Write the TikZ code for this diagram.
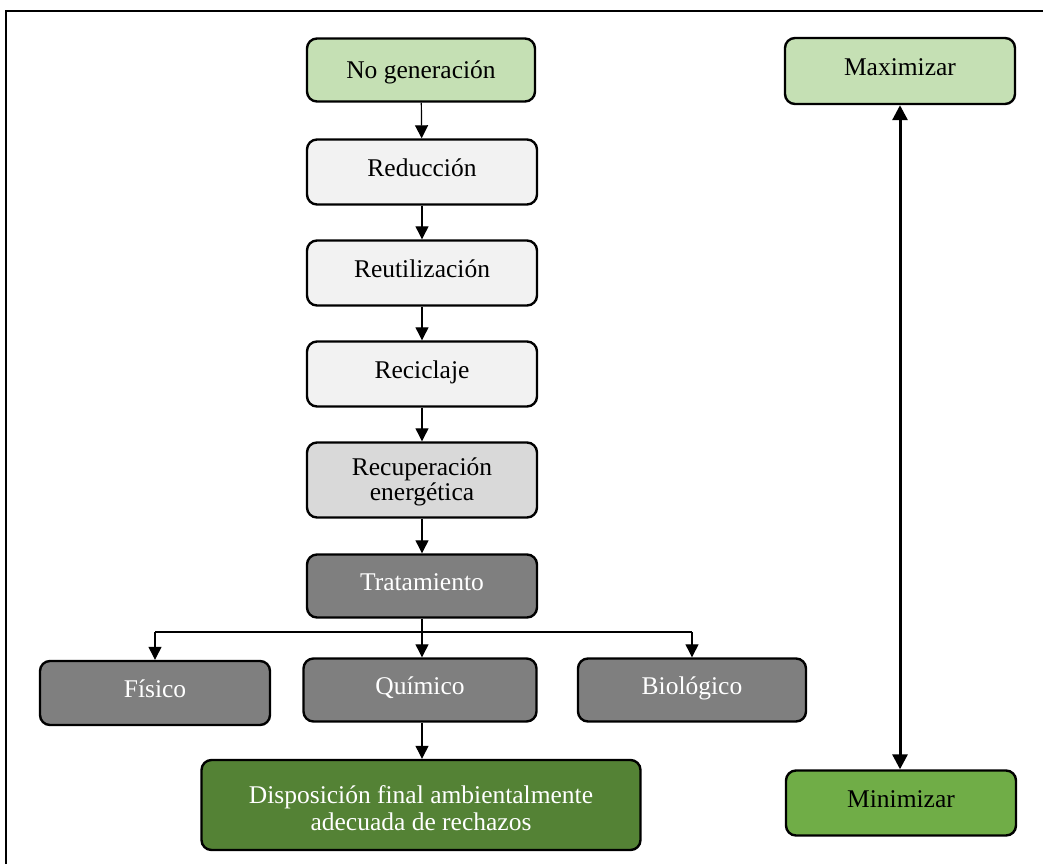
\documentclass[tikz,border=0pt]{standalone}
\usepackage{fontspec}
\setmainfont{Liberation Serif}
\usetikzlibrary{arrows.meta}
\definecolor{paleGreen}{HTML}{C5E0B4}
\definecolor{midGreen}{HTML}{70AD47}
\definecolor{darkGreen}{HTML}{548235}
\definecolor{paleGray}{HTML}{F2F2F2}
\definecolor{lightGray}{HTML}{D9D9D9}
\definecolor{darkGray}{HTML}{7F7F7F}
\begin{document}
\begin{tikzpicture}[x=1pt,y=-1pt,
  box/.style={draw=black, line width=2.4pt, rounded corners=10pt,
    minimum width=230pt, minimum height=65pt, inner sep=0pt,
    text height=17pt, text depth=8pt,
    align=center, font=\fontsize{25.5}{25}\selectfont},
  pale/.style={box, fill=paleGray, text=black},
  light/.style={box, fill=lightGray, text=black},
  dark/.style={box, fill=darkGray, text=white},
  flow/.style={-{Triangle[length=13pt,width=13pt]}, line width=1.2pt},
  scale arrow/.style={{Triangle[length=15pt,width=15pt]}-{Triangle[length=15pt,width=15pt]}, line width=3pt},
]
\useasboundingbox (0,0) rectangle (1043,864);
% frame
\draw[line width=2pt] (6,864) -- (6,11) -- (1043,11);

% hierarchy column
\node[box, fill=paleGreen, minimum width=228pt, minimum height=63pt,
  text height=18pt, text depth=0pt] (nogen) at (421,70) {No generación};
\node[pale] (reduc) at (422,172) {Reducción};
\node[pale] (reuti) at (422,273) {Reutilización};
\node[pale] (recic) at (422,374) {Reciclaje};
\node[light, minimum height=75pt, text height=45pt, text depth=4pt] (recup) at (422,480)
  {Recuperación\\energética};
\node[dark, minimum height=63pt] (trat) at (422,586) {Tratamiento};

% treatment types
\node[dark, minimum height=64pt] (fis) at (155,693) {Físico};
\node[dark, minimum width=233pt, minimum height=63pt] (quim) at (420,690) {Químico};
\node[dark, minimum width=228pt, minimum height=63pt] (bio) at (692,690) {Biológico};

\node[box, fill=darkGreen, text=white, minimum width=439pt, minimum height=90pt,
  font=\fontsize{25.5}{27}\selectfont, text height=51pt, text depth=0pt] (disp) at (421,805)
  {Disposición final ambientalmente\\adecuada de rechazos};

% scale
\node[box, fill=paleGreen, minimum height=66pt] (maxi) at (900,71) {Maximizar};
\node[box, fill=midGreen, minimum height=65pt] (mini) at (901,803) {Minimizar};

% connectors
\draw[flow] (nogen) -- (reduc);
\draw[flow] (reduc) -- (reuti);
\draw[flow] (reuti) -- (recic);
\draw[flow] (recic) -- (recup);
\draw[flow] (recup) -- (trat);
\draw[flow] (trat.south) -- (trat.south |- quim.north);
\coordinate (bus) at (422,632);
\draw[line width=1.2pt] (fis.north |- bus) -- (bio.north |- bus);
\draw[flow] (fis.north |- bus) -- (fis.north);
\draw[flow] (bio.north |- bus) -- (bio.north);
\draw[flow] (trat.south |- quim.south) -- (trat.south |- disp.north);
\draw[scale arrow] (maxi.south) -- (maxi.south |- mini.north);
\end{tikzpicture}
\end{document}
